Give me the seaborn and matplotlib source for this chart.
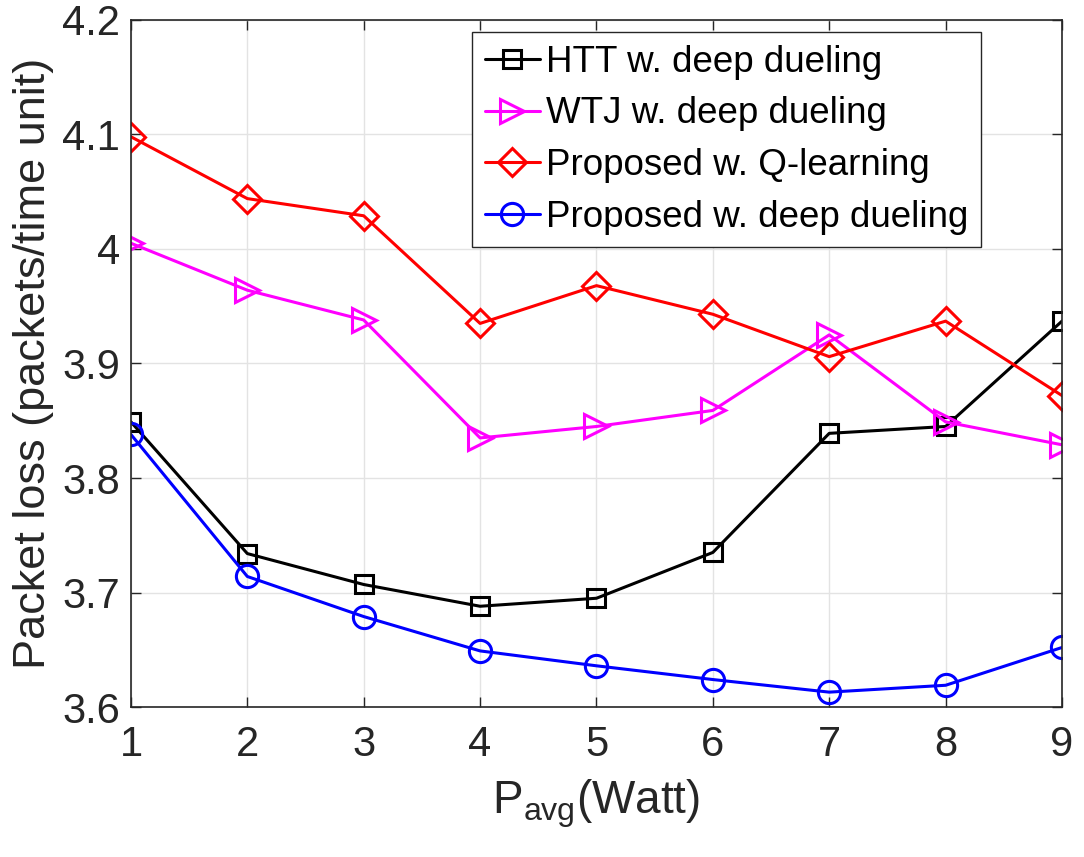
import matplotlib
matplotlib.use("Agg")
import matplotlib.pyplot as plt
import seaborn as sns

p_avg = [1, 2, 3, 4, 5, 6, 7, 8, 9]
htt_deep = [3.849, 3.734, 3.707, 3.688, 3.695, 3.735, 3.839, 3.845, 3.937]
wtj_deep = [4.005, 3.964, 3.938, 3.835, 3.845, 3.859, 3.925, 3.849, 3.829]
prop_q = [4.098, 4.044, 4.029, 3.935, 3.968, 3.943, 3.906, 3.937, 3.872]
prop_deep = [3.838, 3.714, 3.679, 3.649, 3.636, 3.624, 3.613, 3.619, 3.652]

series = [
    ("HTT w. deep dueling", htt_deep, "black", "s", 13),
    ("WTJ w. deep dueling", wtj_deep, "magenta", ">", 17),
    ("Proposed w. Q-learning", prop_q, "red", "D", 14),
    ("Proposed w. deep dueling", prop_deep, "blue", "o", 16),
]

sns.set_style("ticks")
plt.rcParams["font.family"] = ["Liberation Sans", "DejaVu Sans"]
plt.rcParams["mathtext.fontset"] = "custom"
plt.rcParams["mathtext.rm"] = "Liberation Sans"

fig = plt.figure(figsize=(10.84, 8.57), dpi=100)
ax = fig.add_axes([0.1208, 0.175, 0.9797 - 0.1208, 0.9767 - 0.175])

for name, vals, col, mk, ms in series:
    sns.lineplot(x=p_avg, y=vals, ax=ax, color=col, marker=mk, markersize=ms,
                 markerfacecolor="none", markeredgecolor=col, markeredgewidth=2.2,
                 linewidth=2.2, label=name)

ax.set_xlim(1, 9)
ax.set_ylim(3.6, 4.2)
ax.set_xticks(p_avg)
ax.set_yticks([3.6, 3.7, 3.8, 3.9, 4.0, 4.1, 4.2])
ax.set_yticklabels(["3.6", "3.7", "3.8", "3.9", "4", "4.1", "4.2"])
ax.grid(True, color="#e3e3e3", linewidth=1)
ax.set_axisbelow(True)
ax.tick_params(direction="in", length=7, width=1, labelsize=30, colors="#262626",
               top=True, right=True)
ax.tick_params(axis="x", pad=13)
ax.tick_params(axis="y", pad=8)
for s in ax.spines.values():
    s.set_visible(True)
    s.set_color("#262626")
    s.set_linewidth(1.2)

ax.set_xlabel(r"$\mathregular{P_{avg}}$(Watt)", fontsize=33, color="#262626", labelpad=9)
ax.set_ylabel("Packet loss (packets/time unit)", fontsize=32.5, color="#262626", labelpad=6)

leg = ax.legend(loc="upper left", bbox_to_anchor=(0.366, 0.9825), borderaxespad=0,
                fontsize=26.5, frameon=True, fancybox=False, framealpha=1,
                edgecolor="#262626", handlelength=1.5, handletextpad=0.16,
                labelspacing=0.45, borderpad=0.35)
leg.get_frame().set_linewidth(1.0)
for t in leg.get_texts():
    t.set_color("black")

fig.savefig("out.png", dpi=100)
